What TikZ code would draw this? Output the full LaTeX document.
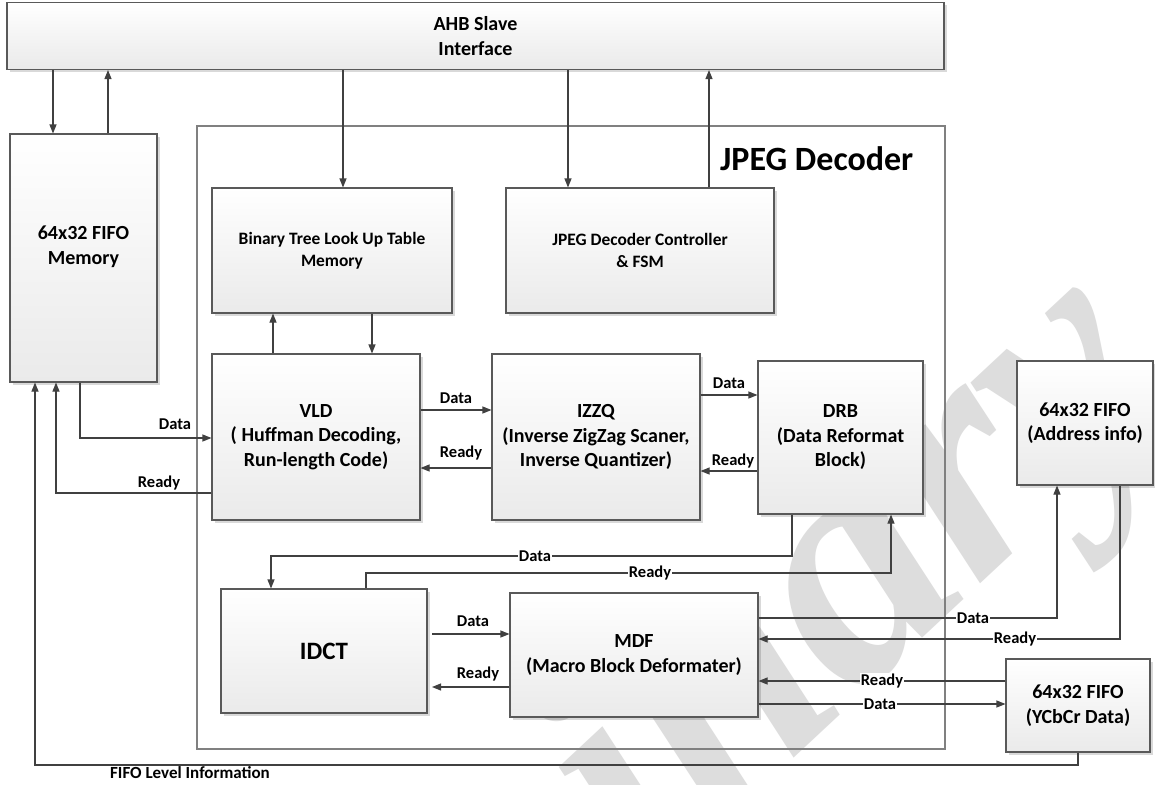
\documentclass[tikz,border=0pt]{standalone}
\usepackage{fontspec}
\setmainfont{Carlito}
\newfontfamily\wmfont{Liberation Serif}
\usetikzlibrary{arrows.meta,shadows,calc}
\definecolor{boxline}{HTML}{595959}
\definecolor{arrline}{HTML}{404040}
\definecolor{outerline}{HTML}{808080}
\definecolor{boxbot}{HTML}{EAEAEA}
\definecolor{wmgray}{HTML}{DDDDDD}
\begin{document}
\begin{tikzpicture}[x=1pt,y=-1pt,
  blk/.style={draw=boxline, line width=1.1pt, top color=white, bottom color=boxbot,
    drop shadow={shadow xshift=2.5pt, shadow yshift=-2.5pt, fill=black, opacity=0.15},
    inner sep=0pt, align=center, font=\bfseries\fontsize{20}{24.5}\selectfont},
  smalltxt/.style={font=\bfseries\fontsize{17.4}{22}\selectfont},
  arr/.style={draw=arrline, line width=1.1pt, -{Triangle[length=9pt,width=7pt]}},
  lbl/.style={font=\bfseries\fontsize{16.5}{19}\selectfont, inner sep=1pt},
  lblw/.style={lbl, fill=white},
]
\fill[white] (0,0) rectangle (1155,784);
\useasboundingbox (0,0) rectangle (1155,784);

% watermark
\begin{scope}
\clip (0,0) rectangle (1155,784);
\node[text=wmgray, rotate=43, anchor=base east, inner sep=0pt,
  font=\wmfont\bfseries\itshape\fontsize{335}{335}\selectfont] (wm) at (1180,398) {Preliminary};
\end{scope}

% outer decoder frame
\node[draw=outerline, line width=1.1pt, minimum width=748pt, minimum height=623pt, inner sep=0pt] (dec) at (571,437.5) {};
\node[anchor=base west, inner sep=0pt, font=\bfseries\fontsize{34}{40}\selectfont] (title) at (720,170) {JPEG Decoder};

% blocks
\node[blk, minimum width=937pt, minimum height=67pt] (ahb) at (475.5,36) {AHB Slave\\Interface};
\node[blk, minimum width=147pt, minimum height=248pt] (fifo) at (83.5,258) {};
\node[align=center, font=\bfseries\fontsize{20}{24.5}\selectfont] (fifotxt) at (83.5,246.5) {64x32 FIFO\\Memory};
\node[blk, smalltxt, minimum width=240pt, minimum height=125pt] (bt) at (332,250.5) {Binary Tree Look Up Table\\Memory};
\node[blk, smalltxt, minimum width=268pt, minimum height=125pt] (ctrl) at (640,250.5) {JPEG Decoder Controller\\\& FSM};
\node[blk, minimum width=208pt, minimum height=166pt] (vld) at (316,437) {VLD\\( Huffman Decoding,\\Run-length Code)};
\node[blk, minimum width=208pt, minimum height=166pt] (izzq) at (596,437) {IZZQ\\(Inverse ZigZag Scaner,\\Inverse Quantizer)};
\node[blk, minimum width=165pt, minimum height=153pt] (drb) at (840.5,437.5) {DRB\\(Data Reformat\\Block)};
\node[blk, minimum width=136pt, minimum height=124pt] (addr) at (1085,423) {64x32 FIFO\\(Address info)};
\node[blk, minimum width=206pt, minimum height=124pt, font=\bfseries\fontsize{25}{30}\selectfont] (idct) at (324,651) {IDCT};
\node[blk, minimum width=248pt, minimum height=124pt] (mdf) at (634,655) {MDF\\(Macro Block Deformater)};
\node[blk, minimum width=144pt, minimum height=93pt] (ycc) at (1078,705.5) {64x32 FIFO\\(YCbCr Data)};

% helper coordinates (columns / rows)
\foreach \x in {35,53,56,80,108,271,273,343,366,372,432,568,709,792,891,1057,1078,1120}
  \coordinate (c\x) at (\x,0);
\foreach \y in {395,410,438,468,471,493,556,573,618,634,639,681,687,704,765}
  \coordinate (r\y) at (0,\y);

% AHB connections
\draw[arr] (c53 |- ahb.south) -- (c53 |- fifo.north);
\draw[arr] (c108 |- fifo.north) -- (c108 |- ahb.south);
\draw[arr] (c343 |- ahb.south) -- (c343 |- bt.north);
\draw[arr] (c568 |- ahb.south) -- (c568 |- ctrl.north);
\draw[arr] (c709 |- ctrl.north) -- (c709 |- ahb.south);

% VLD <-> Binary tree
\draw[arr] (c273 |- vld.north) -- (c273 |- bt.south);
\draw[arr] (c372 |- bt.south) -- (c372 |- vld.north);

% FIFO <-> VLD
\draw[arr] (c80 |- fifo.south) |- (vld.west |- r438);
\draw[arr] (vld.west |- r493) -| (c56 |- fifo.south);

% VLD <-> IZZQ <-> DRB
\draw[arr] (vld.east |- r410) -- (izzq.west |- r410);
\draw[arr] (izzq.west |- r468) -- (vld.east |- r468);
\draw[arr] (izzq.east |- r395) -- (drb.west |- r395);
\draw[arr] (drb.west |- r471) -- (izzq.east |- r471);

% DRB <-> IDCT
\draw[arr] (c792 |- drb.south) |- (c271 |- r556) -- (c271 |- idct.north);
\draw[arr] (c366 |- idct.north) |- (c891 |- r573) -- (c891 |- drb.south);

% IDCT <-> MDF
\draw[arr] (c432 |- r634) -- (mdf.west |- r634);
\draw[arr] (mdf.west |- r687) -- (c432 |- r687);

% MDF <-> FIFOs
\draw[arr] (mdf.east |- r618) -| (c1057 |- addr.south);
\draw[arr] (c1120 |- addr.south) |- (mdf.east |- r639);
\draw[arr] (ycc.west |- r681) -- (mdf.east |- r681);
\draw[arr] (mdf.east |- r704) -- (ycc.west |- r704);

% FIFO level information
\draw[arr] (c1078 |- ycc.south) |- (c35 |- r765) -- (c35 |- fifo.south);

% labels
\node[lbl] (l1) at (175,424) {Data};
\node[lbl] (l2) at (159,483) {Ready};
\node[lbl] (l3) at (456,398) {Data};
\node[lbl] (l4) at (461,453) {Ready};
\node[lbl] (l5) at (729,383) {Data};
\node[lbl] (l6) at (733,461) {Ready};
\node[lblw] (l7) at (535,556) {Data};
\node[lblw] (l8) at (650,573) {Ready};
\node[lbl] (l9) at (473,621) {Data};
\node[lbl] (l10) at (478,674) {Ready};
\node[lblw] (l11) at (973,618) {Data};
\node[lblw] (l12) at (1015,639) {Ready};
\node[lblw] (l13) at (882,681) {Ready};
\node[lblw] (l14) at (880,704) {Data};
\node[lbl, font=\bfseries\fontsize{17}{20}\selectfont] (l15) at (190,773) {FIFO Level Information};
\end{tikzpicture}
\end{document}
